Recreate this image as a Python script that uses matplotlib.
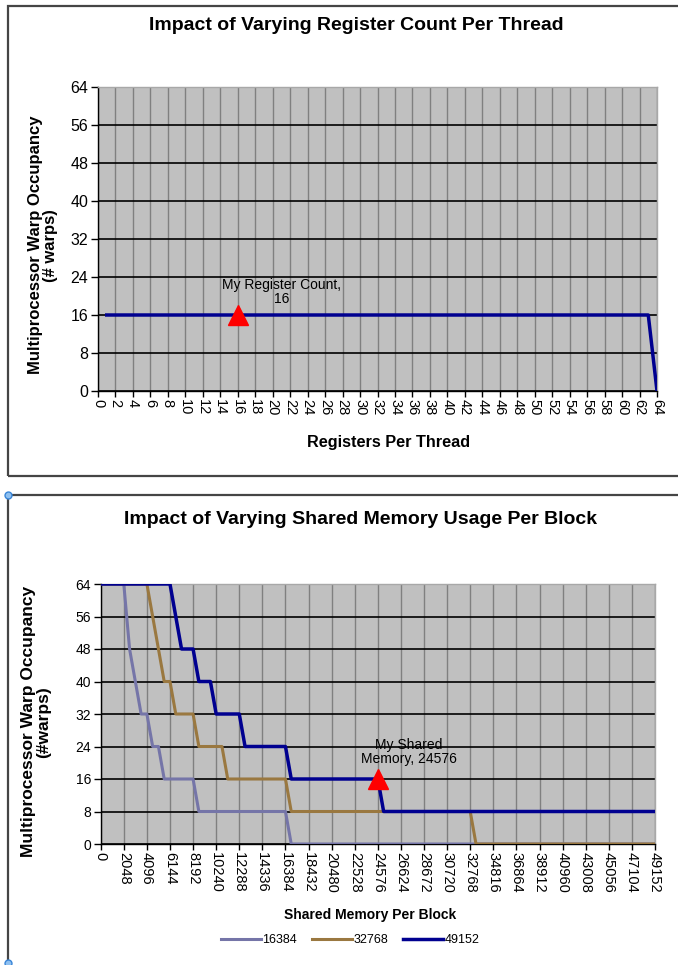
import matplotlib
matplotlib.use("Agg")
import matplotlib.pyplot as plt
from matplotlib.lines import Line2D
from matplotlib.patches import Rectangle

plt.rcParams['font.family'] = ['Liberation Sans', 'DejaVu Sans']

# register chart data (vertices of the plotted line)
reg_x = [1, 63, 64]
reg_warps = [16, 16, 0]
reg_ticks = list(range(0, 65, 2))
my_regs = 16
my_regs_warps = 16

# shared memory chart data (vertices of each step line)
smem_16384_x = [0, 2048, 2560, 3072, 3584, 4096, 4608, 5120, 5632, 8192, 8704,
                16384, 16896, 49152]
smem_16384_y = [64, 64, 48, 40, 32, 32, 24, 24, 16, 16, 8, 8, 0, 0]
smem_32768_x = [0, 4096, 4608, 5120, 5632, 6144, 6656, 8192, 8704, 10752, 11264,
                16384, 16896, 32768, 33280, 49152]
smem_32768_y = [64, 64, 56, 48, 40, 40, 32, 32, 24, 24, 16, 16, 8, 8, 0, 0]
smem_49152_x = [0, 6144, 6656, 7168, 8192, 8704, 9728, 10240, 12288, 12800,
                16384, 16896, 24576, 25088, 49152]
smem_49152_y = [64, 64, 56, 48, 48, 40, 40, 32, 32, 24, 24, 16, 16, 8, 8]
smem_ticks = list(range(0, 49153, 2048))
my_smem = 24576
my_smem_warps = 16

y_ticks = list(range(0, 65, 8))

W, H = 678, 965
fig = plt.figure(figsize=(W / 100, H / 100), dpi=100)


def px(x0, y0, x1, y1):
    """pixel box (left, top, right, bottom) -> figure fraction rect"""
    return [x0 / W, 1 - y1 / H, (x1 - x0) / W, (y1 - y0) / H]


def style_axes(ax, ysize, xsize):
    ax.set_facecolor('#c0c0c0')
    ax.set_ylim(0, 64)
    ax.set_yticks(y_ticks)
    ax.grid(axis='y', color='black', linewidth=1.2, zorder=1)
    ax.grid(axis='x', color='#808080', linewidth=1.0, zorder=1)
    ax.set_axisbelow(True)
    for s in ['left', 'bottom']:
        ax.spines[s].set_color('black')
        ax.spines[s].set_linewidth(1.0)
    for s in ['top', 'right']:
        ax.spines[s].set_color('#a8a8a8')
        ax.spines[s].set_linewidth(1.0)
    ax.tick_params(axis='y', direction='out', length=5, width=1, labelsize=ysize, pad=2)
    ax.tick_params(axis='x', direction='out', length=4, width=1, labelsize=xsize,
                   labelrotation=-90, pad=2)


# frames around the two charts
fig.add_artist(Rectangle((8 / W, 1 - 476 / H), 700 / W, 470 / H, transform=fig.transFigure,
                         fill=False, edgecolor='#454545', linewidth=1.6))
fig.add_artist(Line2D([8 / W, 1.0], [1 - 495 / H, 1 - 495 / H], transform=fig.transFigure,
                      color='#454545', linewidth=1.6))
fig.add_artist(Line2D([8 / W, 8 / W], [1 - 495 / H, 0], transform=fig.transFigure,
                      color='#454545', linewidth=1.6))
for yy in [495, 963]:
    fig.add_artist(Line2D([8 / W], [1 - yy / H], transform=fig.transFigure, marker='o',
                          markersize=5, markerfacecolor='#8ec0f0', markeredgecolor='#3a86d8',
                          markeredgewidth=1))

# ---- top chart
ax1 = fig.add_axes(px(98, 87, 657, 391))
style_axes(ax1, 11.5, 10.5)
ax1.set_xlim(0, 64)
ax1.set_xticks(reg_ticks)
ax1.plot(reg_x, reg_warps, color='#000090', linewidth=2.5, zorder=3)
ax1.plot([my_regs], [my_regs_warps], marker='^', color='red', markersize=14,
         linestyle='none', zorder=4)
ax1.text(my_regs + 5, my_regs_warps + 4.9, 'My Register Count,\n16', ha='center', va='center',
         fontsize=10, multialignment='center', linespacing=1.0, zorder=5)
ax1.set_xlabel('Registers Per Thread', fontsize=11.7, fontweight='bold')
ax1.xaxis.set_label_coords(0.519, -0.145)
ax1.set_ylabel('Multiprocessor Warp Occupancy\n(# warps)', fontsize=12,
               fontweight='bold', linespacing=0.95)
ax1.yaxis.set_label_coords(-0.072, 0.48)
fig.text(356 / W, 1 - 25 / H, 'Impact of Varying Register Count Per Thread', ha='center',
         va='center', fontsize=14, fontweight='bold')

# ---- bottom chart
ax2 = fig.add_axes(px(100.7, 584, 655, 844))
style_axes(ax2, 10, 10.5)
ax2.set_xlim(0, 49152)
ax2.set_xticks(smem_ticks)
ax2.plot(smem_16384_x, smem_16384_y, color='#7575a8', linewidth=2.2, zorder=3, label='16384')
ax2.plot(smem_32768_x, smem_32768_y, color='#9a7840', linewidth=2.2, zorder=3, label='32768')
ax2.plot(smem_49152_x, smem_49152_y, color='#000090', linewidth=2.5, zorder=3, label='49152')
ax2.plot([my_smem], [my_smem_warps], marker='^', color='red', markersize=14,
         linestyle='none', zorder=4)
ax2.text(my_smem + 2750, my_smem_warps + 6.6, 'My Shared\nMemory, 24576', ha='center',
         va='center', fontsize=10, multialignment='center', linespacing=1.0, zorder=5)
ax2.set_xlabel('Shared Memory Per Block', fontsize=10, fontweight='bold')
ax2.xaxis.set_label_coords(0.486, -0.245)
ax2.set_ylabel('Multiprocessor Warp Occupancy\n(#warps)', fontsize=12.5,
               fontweight='bold', linespacing=0.95)
ax2.yaxis.set_label_coords(-0.09, 0.47)
ax2.legend(loc='center', bbox_to_anchor=(0.45, -0.37), ncol=3, frameon=False, fontsize=9,
           handlelength=3.2, handletextpad=0.1, columnspacing=1.2)
fig.text(360 / W, 1 - 520 / H, 'Impact of Varying Shared Memory Usage Per Block',
         ha='center', va='center', fontsize=14, fontweight='bold')

fig.savefig('out.png', dpi=100)
